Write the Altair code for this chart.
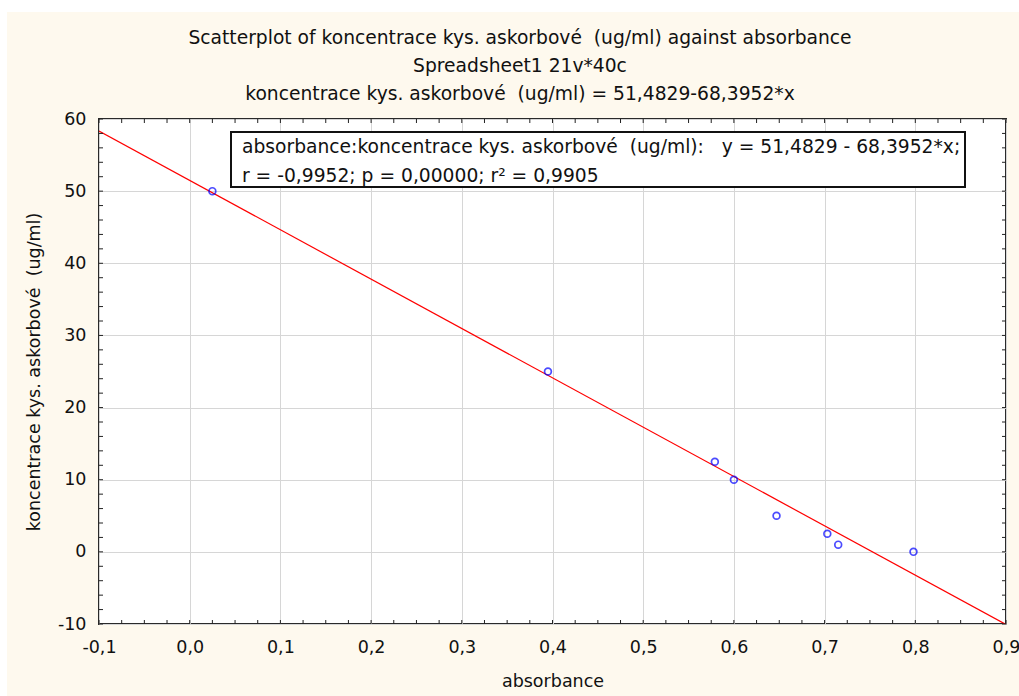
import altair as alt
import pandas as pd
import numpy as np

# ---- data ----
absorbance = [0.025, 0.395, 0.579, 0.600, 0.647, 0.703, 0.715, 0.798]
koncentrace = [50.0, 25.0, 12.5, 10.0, 5.0, 2.5, 1.0, 0.0]

fit_intercept = 51.4829
fit_slope = -68.3952

x_domain = [-0.1, 0.9]
y_domain = [-10, 60]
x_major = [-0.1, 0.0, 0.1, 0.2, 0.3, 0.4, 0.5, 0.6, 0.7, 0.8, 0.9]
y_major = [-10, 0, 10, 20, 30, 40, 50, 60]
x_minor = [round(v, 3) for v in np.arange(-0.1, 0.9001, 0.025)]
y_minor = list(range(-10, 61, 2))

title_lines = [
    "Scatterplot of koncentrace kys. askorbové\u00a0 (ug/ml) against absorbance",
    "Spreadsheet1 21v*40c",
    "koncentrace kys. askorbové\u00a0 (ug/ml) = 51,4829-68,3952*x",
]
legend_lines = [
    "absorbance:koncentrace kys. askorbové\u00a0 (ug/ml):\u00a0\u00a0 y = 51,4829 - 68,3952*x;",
    "r = -0,9952; p = 0,00000; r\u00b2 = 0,9905",
]
x_title = "absorbance"
y_title = "koncentrace kys. askorbové\u00a0 (ug/ml)"

W, H = 907, 505
FONT = "DejaVu Sans"
FS = 17.5
FS_TXT = 18.7
INK = "#111111"

pts = pd.DataFrame({"absorbance": absorbance, "konc": koncentrace})
line_df = pd.DataFrame({"absorbance": x_domain,
                        "konc": [fit_intercept + fit_slope * v for v in x_domain]})

xs = alt.Scale(domain=x_domain, nice=False, zero=False)
ys = alt.Scale(domain=y_domain, nice=False, zero=False)

x_axis = alt.Axis(values=x_major,
                  labelExpr="(datum.value < 0 ? '-' : '') + replace(format(abs(datum.value), '.1f'), '.', ',')",
                  grid=True, gridColor="#d6d6d6", ticks=False, domain=False,
                  labelFontSize=FS, labelFont=FONT, labelColor=INK, labelPadding=14,
                  labelFlush=False, labelOverlap=False,
                  title=x_title, titleFontSize=FS, titleFont=FONT, titleFontWeight="normal",
                  titleColor=INK, titlePadding=17)
y_axis = alt.Axis(values=y_major,
                  labelExpr="(datum.value < 0 ? '-' : '') + format(abs(datum.value), 'd')",
                  grid=True, gridColor="#d6d6d6", ticks=False, domain=False,
                  labelFontSize=FS, labelFont=FONT, labelColor=INK, labelPadding=13,
                  labelFlush=False, labelOverlap=False,
                  title=y_title, titleFontSize=FS, titleFont=FONT, titleFontWeight="normal",
                  titleColor=INK, titlePadding=14)


def X(field="absorbance"):
    return alt.X(f"{field}:Q", scale=xs, axis=x_axis)


def Y(field="konc"):
    return alt.Y(f"{field}:Q", scale=ys, axis=y_axis)


one = pd.DataFrame({"a": [0]})

# white strips of the outer frame (cream panel starts a few px in)
white_top = alt.Chart(one).mark_rect(fill="white", clip=False).encode(
    x=alt.value(-99), x2=alt.value(W + 13), y=alt.value(-119), y2=alt.value(-107))
white_left = alt.Chart(one).mark_rect(fill="white", clip=False).encode(
    x=alt.value(-99), x2=alt.value(-92), y=alt.value(-119), y2=alt.value(H + 72))

# chart titles
titles = [
    alt.Chart(pd.DataFrame({"t": [t]})).mark_text(
        align="center", baseline="middle", fontSize=FS_TXT, font=FONT, color=INK).encode(
        x=alt.value(421), y=alt.value(yy), text="t:N")
    for t, yy in zip(title_lines, [-81, -53, -25])
]

# minor ticks (inward) on all four sides
xm = pd.DataFrame({"absorbance": x_minor})
ym = pd.DataFrame({"konc": y_minor})
tick_len = 4
TC = "#222222"
t_bottom = alt.Chart(xm).mark_rule(color=TC, strokeWidth=1).encode(
    x=X(), y=alt.value(H), y2=alt.value(H - tick_len))
t_top = alt.Chart(xm).mark_rule(color=TC, strokeWidth=1).encode(
    x=X(), y=alt.value(0), y2=alt.value(tick_len))
t_left = alt.Chart(ym).mark_rule(color=TC, strokeWidth=1).encode(
    y=Y(), x=alt.value(0), x2=alt.value(tick_len))
t_right = alt.Chart(ym).mark_rule(color=TC, strokeWidth=1).encode(
    y=Y(), x=alt.value(W), x2=alt.value(W - tick_len))

fit_line = alt.Chart(line_df).mark_line(color="#ff0000", strokeWidth=1.2, clip=True).encode(
    x=X(), y=Y())

points = alt.Chart(pts).mark_point(shape="circle", filled=False, color="#0000ff",
                                   size=46, strokeWidth=1.7).encode(x=X(), y=Y())

box = alt.Chart(one).mark_rect(fill="white", stroke=INK, strokeWidth=2).encode(
    x=alt.value(132), x2=alt.value(866), y=alt.value(13), y2=alt.value(68))

legs = [
    alt.Chart(pd.DataFrame({"t": [t]})).mark_text(
        align="left", baseline="middle", fontSize=FS_TXT, font=FONT, color=INK).encode(
        x=alt.value(143), y=alt.value(yy), text="t:N")
    for t, yy in zip(legend_lines, [28, 57])
]

chart = alt.layer(
    white_top, white_left, *titles, fit_line, t_bottom, t_top, t_left, t_right, points, box, *legs
).properties(
    width=W, height=H,
    background="#fef9ee",
    padding={"left": 99, "top": 119, "right": 13, "bottom": 72},
    autosize=alt.AutoSizeParams(type="none"),
).configure_view(fill="white", stroke="#2a2a2a", strokeWidth=2)

chart.save("out.html", embed_options={"renderer": "svg", "actions": False})
